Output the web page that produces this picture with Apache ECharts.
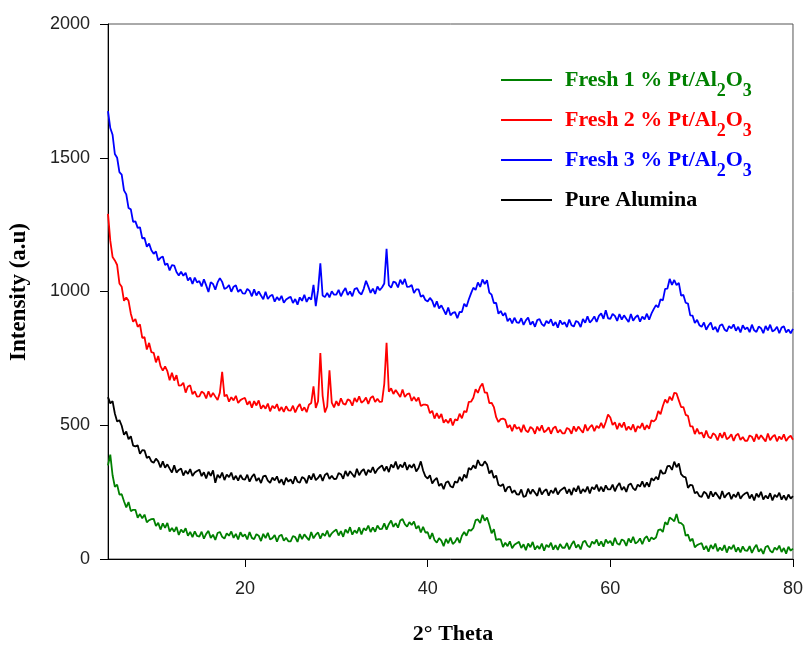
<!DOCTYPE html>
<html>
<head>
<meta charset="utf-8">
<title>XRD patterns</title>
<script src="https://cdn.jsdelivr.net/npm/echarts@6.0.0/dist/echarts.min.js"></script>
<style>
  html, body { margin: 0; padding: 0; background: #fff; }
  #xrdChart { width: 806px; height: 645px; }
</style>
</head>
<body>
<div id="xrdChart"></div>
<script>
  // scan grid: 5 to 80 deg 2-theta, 0.25 deg per point
  var scanStart = 5
  var scanStep = 0.25

  var fresh1 = [
    350, 390, 313, 270, 278, 241, 242, 216, 193, 213, 179, 184, 184, 154, 168, 152, 166, 137, 145, 149,
    150, 123, 135, 110, 133, 116, 135, 103, 116, 102, 120, 90, 110, 99, 115, 87, 101, 82, 103, 86,
    84, 102, 76, 94, 105, 79, 91, 71, 97, 101, 83, 76, 96, 87, 103, 79, 94, 73, 100, 84,
    92, 73, 101, 79, 74, 93, 87, 67, 94, 78, 98, 73, 78, 90, 65, 86, 91, 68, 79, 66,
    66, 86, 82, 64, 93, 74, 92, 81, 70, 101, 77, 91, 99, 76, 96, 86, 106, 82, 96, 104,
    110, 88, 104, 83, 110, 97, 119, 91, 107, 97, 118, 92, 115, 107, 125, 101, 118, 102, 125, 112,
    113, 133, 110, 130, 144, 120, 134, 117, 144, 149, 130, 121, 138, 127, 140, 113, 124, 99, 120, 99,
    100, 75, 97, 71, 61, 78, 69, 48, 75, 59, 80, 56, 64, 80, 60, 87, 101, 87, 109, 106,
    116, 145, 148, 135, 165, 143, 155, 128, 96, 111, 71, 74, 73, 45, 61, 48, 66, 40, 53, 59,
    64, 41, 55, 33, 58, 44, 64, 35, 49, 38, 58, 31, 53, 44, 61, 35, 52, 34, 56, 42,
    42, 60, 36, 54, 67, 42, 54, 36, 63, 68, 50, 44, 65, 57, 73, 50, 66, 46, 73, 59,
    68, 50, 79, 58, 53, 73, 68, 49, 77, 61, 83, 58, 64, 77, 55, 77, 85, 65, 81, 74,
    80, 108, 111, 101, 138, 128, 155, 149, 141, 168, 136, 134, 126, 87, 91, 67, 76, 44, 52, 56,
    59, 35, 49, 27, 52, 38, 58, 29, 43, 32, 52, 24, 46, 37, 53, 27, 43, 25, 47, 32,
    30, 48, 23, 41, 53, 27, 38, 19, 45, 49, 31, 24, 43, 34, 50, 26, 41, 20, 46, 31, 39
  ]

  var fresh2 = [
    1290, 1190, 1129, 1116, 1099, 1030, 1018, 965, 978, 965, 917, 887, 897, 868, 877, 827, 829, 783, 808, 773,
    771, 735, 759, 721, 704, 720, 702, 668, 696, 667, 687, 648, 649, 659, 622, 645, 649, 616, 627, 607,
    608, 626, 620, 600, 627, 605, 621, 607, 594, 622, 700, 608, 614, 588, 605, 593, 610, 583, 594, 599,
    602, 577, 590, 566, 590, 574, 593, 562, 575, 562, 581, 552, 573, 563, 579, 553, 568, 550, 571, 556,
    555, 573, 548, 567, 579, 554, 567, 549, 577, 583, 645, 565, 590, 770, 610, 548, 570, 705, 585, 567,
    590, 573, 601, 581, 577, 597, 592, 573, 602, 587, 608, 584, 591, 604, 580, 602, 609, 587, 599, 587,
    588, 655, 808, 625, 638, 617, 632, 619, 606, 634, 606, 616, 619, 591, 606, 590, 604, 572, 577, 577,
    574, 545, 554, 525, 545, 526, 542, 509, 521, 508, 526, 499, 522, 518, 543, 526, 553, 549, 587, 588,
    603, 635, 621, 644, 656, 622, 622, 583, 584, 568, 530, 512, 523, 525, 520, 491, 501, 478, 503, 487,
    493, 474, 502, 480, 474, 494, 487, 468, 495, 479, 500, 474, 480, 492, 468, 489, 495, 472, 483, 470,
    470, 490, 485, 468, 496, 477, 495, 483, 472, 503, 479, 493, 501, 478, 498, 489, 509, 489, 512, 540,
    529, 501, 511, 485, 508, 492, 511, 481, 495, 483, 503, 475, 497, 489, 508, 483, 500, 487, 519, 514,
    523, 553, 541, 572, 596, 583, 607, 593, 621, 619, 593, 568, 568, 539, 535, 496, 496, 467, 487, 468,
    473, 453, 480, 457, 451, 470, 463, 443, 470, 453, 474, 448, 454, 466, 441, 462, 468, 445, 456, 442,
    442, 462, 457, 439, 467, 447, 463, 451, 439, 469, 444, 457, 464, 440, 458, 447, 466, 441, 454, 461, 446
  ]

  var fresh3 = [
    1674, 1611, 1586, 1514, 1500, 1446, 1437, 1378, 1363, 1312, 1307, 1260, 1262, 1238, 1240, 1199, 1200, 1167, 1179, 1154,
    1141, 1150, 1116, 1126, 1131, 1099, 1105, 1079, 1099, 1097, 1073, 1060, 1074, 1059, 1070, 1041, 1052, 1028, 1052, 1034,
    1039, 1019, 1046, 1023, 998, 1035, 1028, 1007, 1034, 1050, 1036, 1009, 1014, 1024, 999, 1018, 1023, 998, 1008, 993,
    992, 1010, 1002, 982, 1008, 985, 1000, 985, 971, 999, 972, 983, 988, 962, 979, 967, 984, 958, 970, 976,
    980, 957, 972, 951, 978, 965, 988, 961, 978, 970, 1025, 945, 1005, 1105, 985, 979, 995, 978, 1001, 988,
    988, 1006, 982, 1000, 1013, 987, 1000, 982, 1009, 1013, 996, 989, 1010, 1040, 1018, 995, 1011, 991, 1019, 1005,
    1015, 1030, 1160, 1024, 1014, 1037, 1033, 1015, 1044, 1027, 1047, 1017, 1018, 1024, 994, 1008, 1008, 980, 986, 968,
    963, 976, 965, 941, 963, 937, 948, 931, 914, 940, 911, 920, 923, 900, 924, 923, 954, 943, 970, 993,
    1014, 1006, 1034, 1017, 1045, 1028, 1042, 996, 988, 957, 957, 917, 927, 910, 920, 889, 900, 881, 902, 885,
    883, 900, 875, 892, 903, 876, 888, 868, 893, 897, 878, 871, 890, 881, 896, 872, 886, 865, 892, 877,
    885, 867, 895, 874, 869, 890, 885, 867, 897, 883, 907, 884, 893, 907, 886, 909, 918, 898, 930, 900,
    898, 916, 909, 890, 916, 895, 911, 898, 886, 916, 891, 904, 911, 887, 906, 896, 917, 895, 917, 934,
    949, 941, 971, 967, 1010, 1011, 1047, 1025, 1043, 1024, 1032, 985, 987, 958, 955, 911, 910, 882, 894, 874,
    868, 884, 857, 873, 884, 857, 868, 848, 873, 877, 858, 851, 871, 862, 877, 853, 868, 847, 874, 859,
    866, 848, 876, 855, 849, 869, 863, 844, 871, 855, 876, 851, 856, 868, 844, 865, 870, 847, 858, 844, 860
  ]

  var pureAlumina = [
    605, 582, 590, 544, 514, 519, 498, 464, 477, 448, 459, 424, 421, 425, 393, 407, 406, 378, 383, 365,
    360, 375, 365, 342, 365, 341, 354, 338, 323, 350, 323, 333, 338, 312, 330, 318, 336, 310, 323, 329,
    334, 310, 324, 301, 326, 311, 331, 285, 315, 303, 323, 295, 316, 306, 323, 296, 311, 293, 314, 299,
    297, 315, 289, 307, 318, 292, 303, 284, 309, 312, 293, 285, 304, 294, 309, 284, 298, 277, 304, 289,
    298, 281, 309, 289, 285, 306, 301, 283, 312, 297, 319, 295, 303, 316, 292, 314, 321, 299, 311, 299,
    300, 321, 317, 300, 329, 310, 328, 317, 306, 337, 313, 328, 336, 313, 333, 324, 344, 320, 335, 343,
    350, 329, 346, 325, 353, 341, 364, 336, 353, 342, 362, 333, 352, 341, 355, 327, 340, 365, 331, 309,
    301, 313, 282, 295, 303, 273, 282, 261, 286, 290, 272, 267, 290, 285, 307, 291, 316, 303, 340, 334,
    350, 338, 370, 352, 349, 365, 353, 320, 332, 303, 312, 277, 273, 280, 251, 268, 271, 247, 257, 242,
    241, 260, 232, 236, 263, 243, 260, 248, 236, 266, 241, 254, 261, 237, 257, 246, 266, 241, 255, 262,
    268, 245, 261, 239, 266, 252, 274, 245, 261, 251, 271, 245, 269, 260, 278, 253, 270, 252, 275, 260,
    260, 278, 253, 272, 284, 258, 270, 251, 277, 282, 264, 257, 278, 271, 290, 269, 286, 270, 302, 293,
    307, 297, 333, 319, 321, 347, 348, 333, 364, 343, 357, 317, 308, 305, 266, 277, 275, 246, 251, 235,
    232, 251, 245, 226, 253, 233, 249, 237, 224, 254, 229, 241, 248, 224, 242, 231, 250, 225, 238, 245,
    249, 226, 241, 219, 245, 231, 251, 222, 237, 226, 246, 219, 240, 231, 248, 222, 238, 220, 241, 226, 235
  ]

  var seriesNames = [ 'Fresh 1 % Pt/Al2O3', 'Fresh 2 % Pt/Al2O3', 'Fresh 3 % Pt/Al2O3', 'Pure Alumina' ]
  var seriesColors = [ '#008000', '#ff0000', '#0000ff', '#000000' ]
  var seriesValues = [ fresh1, fresh2, fresh3, pureAlumina ]
  var xTickValues = [ 20, 40, 60, 80 ]

  var chart = echarts.init(document.getElementById('xrdChart'))

  var labelFont = '"Liberation Sans Narrow", "Liberation Sans", Arial, sans-serif'
  var titleFont = '"Liberation Serif", "Times New Roman", serif'

  // rich styles for the legend: one normal + one subscript style per colour
  var legendRich = {}
  seriesColors.forEach(function (color, i) {
    legendRich['c' + i] = {
      color: color,
      fontFamily: titleFont,
      fontWeight: 'bold',
      fontSize: 22,
      lineHeight: 22,
      verticalAlign: 'top'
    }
    legendRich['c' + i + 's'] = {
      color: color,
      fontFamily: titleFont,
      fontWeight: 'bold',
      fontSize: 18,
      lineHeight: 18,
      padding: [ 13, 0, 0, 0 ],
      verticalAlign: 'top'
    }
  })

  var series = seriesNames.map(function (name, i) {
    return {
      name: name,
      type: 'line',
      showSymbol: false,
      symbol: 'none',
      color: seriesColors[ i ],
      lineStyle: { width: 1.8, color: seriesColors[ i ] },
      data: seriesValues[ i ].map(function (v, j) {
        return [ scanStart + j * scanStep, v ]
      })
    }
  })

  var options = {
    animation: false,
    backgroundColor: '#ffffff',
    grid: {
      left: 108,
      right: 7,
      top: 24,
      bottom: 86,
      show: true,
      borderColor: '#555',
      borderWidth: 1
    },
    legend: {
      orient: 'vertical',
      left: 501,
      top: 69,
      padding: 0,
      itemWidth: 51,
      itemHeight: 2,
      itemGap: 9,
      icon: 'rect',
      selectedMode: false,
      data: seriesNames,
      textStyle: {
        padding: [ 0, 0, 0, 8 ],
        rich: legendRich
      },
      formatter: function (name) {
        var i = seriesNames.indexOf(name)
        var k = 'c' + i
        if (name.indexOf('Al2O3') > -1) {
          return '{' + k + '|' + name.replace('Al2O3', 'Al') + '}{' + k + 's|2}{' + k + '|O}{' + k + 's|3}'
        }
        return '{' + k + '|' + name + '}'
      }
    },
    xAxis: {
      type: 'value',
      min: 5,
      max: 80,
      axisLine: { show: true, lineStyle: { color: '#000', width: 1 } },
      axisTick: { show: true, customValues: xTickValues, length: 8, lineStyle: { color: '#000' } },
      axisLabel: {
        customValues: xTickValues,
        margin: 21,
        fontFamily: labelFont,
        fontSize: 18,
        color: '#222',
        formatter: function (v) { return String(v) }
      },
      splitLine: { show: false }
    },
    yAxis: {
      type: 'value',
      min: 0,
      max: 2000,
      interval: 500,
      axisLine: { show: true, lineStyle: { color: '#000', width: 1 } },
      axisTick: { show: true, length: 8, lineStyle: { color: '#000' } },
      axisLabel: {
        margin: 18,
        fontFamily: labelFont,
        fontSize: 18,
        color: '#222',
        formatter: function (v) { return String(v) }
      },
      splitLine: { show: false }
    },
    graphic: [ {
      type: 'text',
      x: 19,
      y: 292,
      rotation: Math.PI / 2,
      style: {
        text: 'Intensity (a.u)',
        fontFamily: titleFont,
        fontWeight: 'bold',
        fontSize: 23,
        fill: '#000',
        align: 'center',
        verticalAlign: 'middle'
      }
    }, {
      type: 'text',
      x: 453,
      y: 634,
      style: {
        text: '2° Theta',
        fontFamily: titleFont,
        fontWeight: 'bold',
        fontSize: 22,
        fill: '#000',
        align: 'center',
        verticalAlign: 'middle'
      }
    } ],
    series: series
  }

  chart.setOption(options)
</script>
</body>
</html>
